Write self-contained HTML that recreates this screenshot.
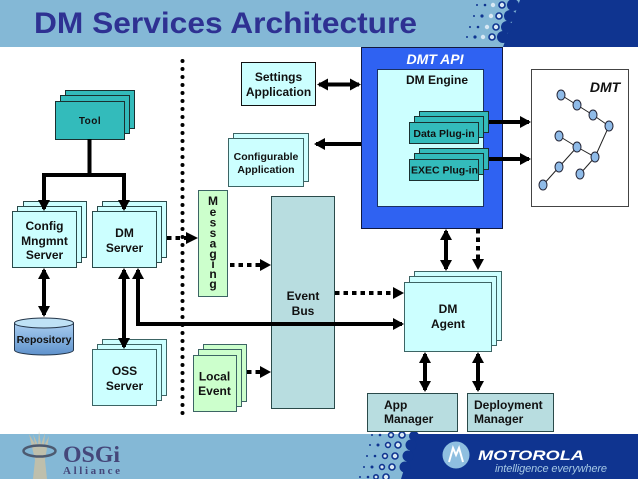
<!DOCTYPE html>
<html><head><meta charset="utf-8"><style>
html,body{margin:0;padding:0;background:#fff}
svg{display:block}
text{font-family:"Liberation Sans",sans-serif;font-weight:bold;fill:#111;text-anchor:middle}
.s{font-size:12px}
</style></head><body>
<svg width="638" height="479" viewBox="0 0 638 479" xmlns="http://www.w3.org/2000/svg">
<defs>
<marker id="a" viewBox="0 0 11 12" refX="9" refY="6" markerUnits="userSpaceOnUse" markerWidth="11" markerHeight="12" orient="auto-start-reverse"><path d="M0 0L11 6L0 12Z" fill="#000"/></marker>
<linearGradient id="r" x1="0" y1="0" x2="0" y2="1"><stop offset="0" stop-color="#a8cdf0"/><stop offset="1" stop-color="#5f92cc"/></linearGradient>
</defs>
<!-- header -->
<rect x="0" y="0" width="638" height="47" fill="#84b8d6"/>
<path d="M520 0L638 0L638 47L503 47Z" fill="#0f3490"/>
<g fill="#0f3490">
<circle cx="513" cy="5" r="6"/><circle cx="510" cy="16" r="6"/><circle cx="507" cy="27" r="6"/><circle cx="503" cy="37" r="6"/>
<circle cx="477" cy="5" r="1"/><circle cx="474" cy="16" r="1"/><circle cx="470" cy="27" r="1"/><circle cx="467" cy="37" r="1"/>
<circle cx="485" cy="5" r="1.3"/><circle cx="482" cy="16" r="1.6"/><circle cx="478" cy="27" r="1.3"/><circle cx="475" cy="37" r="1.6"/>
</g>
<g fill="#d8e8f4" stroke="#0f3490" stroke-width="1.6">
<circle cx="493" cy="5" r="2.2" stroke="none"/><circle cx="491" cy="16" r="2.2" stroke="none"/><circle cx="487" cy="27" r="2.2" stroke="none"/><circle cx="483" cy="37" r="2.2" stroke="none"/>
<circle cx="502" cy="5" r="3"/><circle cx="499" cy="16" r="3"/><circle cx="496" cy="27" r="3"/><circle cx="492" cy="37" r="3"/>
</g>
<text x="34" y="33" textLength="383" lengthAdjust="spacingAndGlyphs" style="text-anchor:start;fill:#2e3192;font-size:30px">DM Services Architecture</text>

<!-- footer -->
<rect x="0" y="434" width="638" height="45" fill="#84b8d6"/>
<path d="M415 434L638 434L638 479L401 479Z" fill="#0f3490"/>
<g fill="#0f3490">
<circle cx="411" cy="445" r="5.5"/><circle cx="408" cy="456" r="5.5"/><circle cx="405" cy="467" r="5.5"/><circle cx="414" cy="436" r="5"/>
<circle cx="372" cy="435" r="1"/><circle cx="370" cy="445" r="1"/><circle cx="367" cy="456" r="1"/><circle cx="364" cy="467" r="1"/><circle cx="360" cy="477" r="1"/>
<circle cx="380" cy="435" r="1.3"/><circle cx="378" cy="445" r="1.5"/><circle cx="375" cy="456" r="1.3"/><circle cx="372" cy="467" r="1.5"/><circle cx="368" cy="477" r="1.3"/>
</g>
<g fill="#d8e8f4" stroke="#0f3490" stroke-width="1.6">
<circle cx="391" cy="435" r="2.4"/><circle cx="388" cy="445" r="2.4"/><circle cx="385" cy="456" r="2.4"/><circle cx="382" cy="467" r="2.4"/><circle cx="376" cy="477" r="2.2"/>
<circle cx="402" cy="435" r="3"/><circle cx="398" cy="445" r="3"/><circle cx="395" cy="456" r="3"/><circle cx="392" cy="467" r="3"/><circle cx="386" cy="477" r="3"/>
</g>
<!-- OSGi -->
<path d="M29 434L35 444L33 434L38 445L39 431L41 445L45 433L44 446L49 436L45 460L47 479L33 479L35 460Z" fill="#c8c0a4" opacity=".85"/>
<ellipse cx="39.500" cy="451" rx="16" ry="5.500" fill="none" stroke="#4d5a70" stroke-width="2.500"/>
<text x="63" y="462" textLength="57" lengthAdjust="spacingAndGlyphs" style="text-anchor:start;font-family:'Liberation Serif',serif;font-size:23px;fill:#45477a">OSGi</text>
<text x="63" y="474" textLength="57" style="text-anchor:start;font-family:'Liberation Serif',serif;font-size:11px;fill:#45477a">Alliance</text>
<!-- Motorola -->
<circle cx="456" cy="455" r="13.500" fill="#8fbfe0"/>
<path d="M449 462L453 448L456 455L459 448L463 462" fill="none" stroke="#fff" stroke-width="2"/>
<text x="478" y="460" textLength="106" lengthAdjust="spacingAndGlyphs" style="text-anchor:start;font-size:14px;font-style:italic;fill:#fff">MOTOROLA</text>
<text x="495" y="472" textLength="112" style="text-anchor:start;font-size:11px;font-style:italic;font-weight:normal;fill:#a5c8e4">intelligence everywhere</text>

<!-- vertical dotted line -->
<line x1="182.500" y1="61" x2="182.500" y2="414" stroke="#000" stroke-width="4" stroke-linecap="round" stroke-dasharray="0 8"/>

<!-- Tool -->
<g fill="#33bbbb" stroke="#1a3030" stroke-width="1">
<rect x="65.500" y="90.500" width="69" height="38"/><rect x="60.500" y="95.500" width="69" height="38"/><rect x="55.500" y="101.500" width="69" height="38"/>
</g>
<text x="90" y="124" style="font-size:10px;letter-spacing:.5px">Tool</text>

<!-- Config / DM Server -->
<g fill="#ccffff" stroke="#2a4a4a" stroke-width="1">
<rect x="23.500" y="201.500" width="63" height="56"/><rect x="17.500" y="206.500" width="64" height="56"/><rect x="12.500" y="211.500" width="64" height="56"/>
<rect x="102.500" y="201.500" width="64" height="56"/><rect x="97.500" y="206.500" width="64" height="56"/><rect x="92.500" y="211.500" width="64" height="56"/>
</g>
<text class="s" x="44.500" y="230">Config</text><text class="s" x="44.500" y="245">Mngmnt</text><text class="s" x="44.500" y="259">Server</text>
<text class="s" x="124.500" y="237">DM</text><text class="s" x="124.500" y="252">Server</text>

<!-- Repository -->
<path d="M14.500 323V350A29.500 5 0 0 0 73.500 350V323Z" fill="url(#r)" stroke="#24364a"/>
<ellipse cx="44" cy="323" rx="29.500" ry="5" fill="#bfe2f6" stroke="#24364a"/>
<text x="44" y="343" style="font-size:10.500px">Repository</text>

<!-- OSS -->
<g fill="#ccffff" stroke="#3c6464" stroke-width="1">
<rect x="102.500" y="339.500" width="64" height="56"/><rect x="97.500" y="344.500" width="64" height="56"/><rect x="92.500" y="349.500" width="64" height="56"/>
</g>
<text class="s" x="124.500" y="375">OSS</text><text class="s" x="124.500" y="390">Server</text>

<!-- Messaging -->
<rect x="198.500" y="190.500" width="29" height="106" fill="#ccffcc" stroke="#3c6464"/>
<text class="s" x="213" y="205">M</text><text class="s" x="213" y="216">e</text><text class="s" x="213" y="226.500">s</text><text class="s" x="213" y="237">s</text><text class="s" x="213" y="247.500">a</text><text class="s" x="213" y="258">g</text><text class="s" x="213" y="268">i</text><text class="s" x="213" y="278">n</text><text class="s" x="213" y="288">g</text>

<!-- Local Event -->
<g fill="#ccffcc" stroke="#3c6464" stroke-width="1">
<rect x="203.500" y="344.500" width="43" height="57"/><rect x="198.500" y="349.500" width="43" height="57"/><rect x="193.500" y="355.500" width="43" height="56"/>
</g>
<text class="s" x="214.500" y="380.500">Local</text><text class="s" x="214.500" y="395">Event</text>

<!-- Settings -->
<rect x="241.500" y="62.500" width="74" height="43" fill="#ccffff" stroke="#111"/>
<text class="s" x="278.500" y="81">Settings</text><text class="s" x="278.500" y="96">Application</text>

<!-- Configurable -->
<g fill="#ccffff" stroke="#3c6464" stroke-width="1">
<rect x="233.500" y="133.500" width="75" height="48"/><rect x="228.500" y="138.500" width="75" height="48"/>
</g>
<text x="266" y="160" style="font-size:10.500px">Configurable</text><text x="266" y="173" style="font-size:10.500px">Application</text>

<!-- Event Bus -->
<rect x="271.500" y="196.500" width="63" height="212" fill="#b8dde0" stroke="#2a4a4a"/>
<text class="s" x="303" y="300">Event</text><text class="s" x="303" y="315">Bus</text>

<!-- DMT API -->
<rect x="361.500" y="47.500" width="141" height="181" fill="#2f62f2" stroke="#101840"/>
<text x="435" y="64" style="font-size:14px;font-style:italic;fill:#fff">DMT API</text>
<rect x="377.500" y="69.500" width="106" height="137" fill="#ccffff" stroke="#1a3060"/>
<text class="s" x="437" y="84">DM Engine</text>
<g fill="#33bbbb" stroke="#1a3030" stroke-width="1">
<rect x="419.500" y="111.500" width="69" height="21"/><rect x="414.500" y="116.500" width="69" height="21"/><rect x="409.500" y="122.500" width="69" height="21"/>
<rect x="419.500" y="148.500" width="69" height="21"/><rect x="414.500" y="153.500" width="69" height="21"/><rect x="409.500" y="159.500" width="69" height="21"/>
</g>
<text x="444" y="137" style="font-size:10.500px">Data Plug-in</text>
<text x="444.500" y="173.500" style="font-size:10.500px" textLength="67">EXEC Plug-in</text>

<!-- DMT -->
<rect x="531.500" y="69.500" width="97" height="137" fill="#fff" stroke="#444"/>
<text x="605" y="92" style="font-size:14px;font-style:italic">DMT</text>
<g stroke="#222" stroke-width="1" fill="none">
<path d="M561 95L577 105L593 115L609 126L595 157L577 147L559 136"/>
<path d="M577 147L559 167L543 185"/>
<path d="M595 157L580 174"/>
</g>
<g fill="#8fbbe8" stroke="#223" stroke-width="1">
<ellipse cx="561" cy="95" rx="4" ry="5"/><ellipse cx="577" cy="105" rx="4" ry="5"/><ellipse cx="593" cy="115" rx="4" ry="5"/><ellipse cx="609" cy="126" rx="4" ry="5"/>
<ellipse cx="559" cy="136" rx="4" ry="5"/><ellipse cx="577" cy="147" rx="4" ry="5"/><ellipse cx="595" cy="157" rx="4" ry="5"/>
<ellipse cx="559" cy="167" rx="4" ry="5"/><ellipse cx="580" cy="174" rx="4" ry="5"/><ellipse cx="543" cy="185" rx="4" ry="5"/>
</g>

<!-- DM Agent -->
<g fill="#ccffff" stroke="#3c6464" stroke-width="1">
<rect x="414.500" y="271.500" width="87" height="69"/><rect x="409.500" y="276.500" width="87" height="69"/><rect x="404.500" y="282.500" width="87" height="69"/>
</g>
<text class="s" x="448" y="313">DM</text><text class="s" x="448" y="328">Agent</text>

<!-- Managers -->
<rect x="367.500" y="393.500" width="90" height="38" fill="#b8dde0" stroke="#2a4a4a"/>
<rect x="467.500" y="393.500" width="86" height="38" fill="#b8dde0" stroke="#2a4a4a"/>
<text class="s" x="384" y="409" style="text-anchor:start">App</text><text class="s" x="384" y="423" style="text-anchor:start">Manager</text>
<text class="s" x="474" y="409" style="text-anchor:start">Deployment</text><text class="s" x="474" y="423" style="text-anchor:start">Manager</text>

<!-- connectors -->
<g fill="none" stroke="#000" stroke-width="4">
<path d="M89.500 139V175"/>
<path d="M44 209V175H124V209" marker-start="url(#a)" marker-end="url(#a)"/>
<path d="M44 270V315" marker-start="url(#a)" marker-end="url(#a)"/>
<path d="M124 270V347" marker-start="url(#a)" marker-end="url(#a)"/>
<path d="M138 270V324H402" marker-start="url(#a)" marker-end="url(#a)"/>
<path d="M319 84.500H359" marker-start="url(#a)" marker-end="url(#a)"/>
<path d="M316 144H361" marker-start="url(#a)"/>
<path d="M446 231V269" marker-start="url(#a)" marker-end="url(#a)"/>
<path d="M425 354V390" marker-start="url(#a)" marker-end="url(#a)"/>
<path d="M478 354V390" marker-start="url(#a)" marker-end="url(#a)"/>
<path d="M489 122H529" marker-end="url(#a)"/>
<path d="M489 159H529" marker-end="url(#a)"/>
</g>
<g fill="none" stroke="#000" stroke-width="4" stroke-dasharray="4.500 4">
<path d="M167 238H189"/>
<path d="M230 265H262"/>
<path d="M247 372H262"/>
<path d="M335 293H395"/>
<path d="M478 229V261"/>
</g>
<g fill="#000">
<path d="M186 232L198 238L186 244Z"/>
<path d="M260 259L271 265L260 271Z"/>
<path d="M260 366L271 372L260 378Z"/>
<path d="M393 287L404 293L393 299Z"/>
<path d="M472 259L478 270L484 259Z"/>
</g>
</svg>
</body></html>
